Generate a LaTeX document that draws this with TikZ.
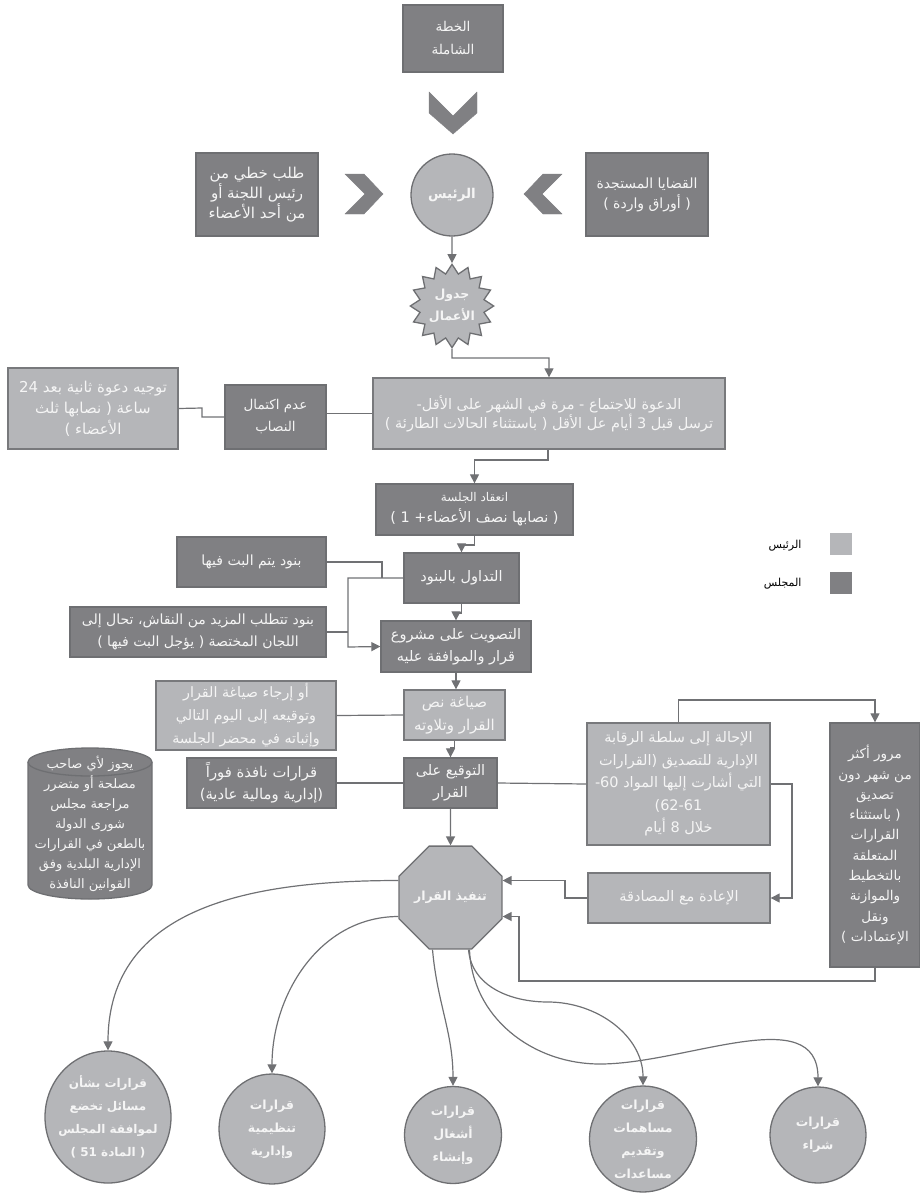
\documentclass[tikz,border=0pt]{standalone}
\usepackage{fontspec}
\usepackage{tikz}
\usetikzlibrary{shapes,arrows.meta}
\newfontfamily\arabicfont[Script=Arabic]{DejaVu Sans}
\newfontfamily\latinfont{DejaVu Sans}
\TeXXeTstate=1
\newcommand{\ar}[1]{\beginR #1\endR}
\newcommand{\arsize}[2]{\arabicfont\fontsize{#1}{#2}\selectfont}
\definecolor{darkfill}{RGB}{128,128,131}
\definecolor{darkline}{RGB}{110,111,114}
\definecolor{lightfill}{RGB}{181,182,185}
\definecolor{lightline}{RGB}{120,121,124}
\definecolor{linkclr}{RGB}{112,113,116}
\definecolor{txtclr}{RGB}{245,245,245}
\tikzset{
   box/.style={rectangle, align=center, inner sep=1pt, line width=1.3pt, text=txtclr,
      font=\arsize{14.5}{22}},
   darkbox/.style={box, fill=darkfill, draw=darkline},
   lightbox/.style={box, fill=lightfill, draw=lightline},
   roundnode/.style={ellipse, inner sep=-6pt, line width=1.3pt, fill=lightfill, draw=darkline,
      text=txtclr, align=center, font=\bfseries\arsize{12.5}{23}},
   chevron/.style={fill=darkfill, draw=darkfill},
   link/.style={draw=linkclr, line width=1.2pt},
   linkarrow/.style={link, -{Triangle[length=9pt,width=9pt]}}
}
\begin{document}
\begin{tikzpicture}[x=1pt, y=-1pt]
   \useasboundingbox (0,0) rectangle (920,1194);
   \node[darkbox, minimum width=100pt, minimum height=67pt, font=\arsize{13.5}{23}] (khutta) at (453,38.5) {\ar{الخطة}\\\ar{الشاملة}};
   \filldraw[chevron] (429,92) -- (453,116) -- (477,92) -- (477,113) -- (453,134) -- (429,113) -- cycle;
   \node[darkbox, minimum width=122pt, minimum height=83pt, font=\arsize{15}{20}] (talab) at (257,194.5) {\ar{طلب خطي من}\\\ar{رئيس اللجنة أو}\\\ar{من أحد الأعضاء}};
   \filldraw[chevron] (345,174) -- (364,174) -- (383,194) -- (364,214) -- (345,214) -- (365,194) -- cycle;
   \node[roundnode, inner sep=0pt, minimum size=82pt, font=\bfseries\arsize{13.5}{20}] (raees) at (452,195) {\ar{الرئيس}};
   \filldraw[chevron] (562,174) -- (543,174) -- (524,194) -- (543,214) -- (562,214) -- (542,194) -- cycle;
   \node[darkbox, minimum width=122pt, minimum height=83pt, font=\arsize{14}{20}] (qadaya) at (647,194.5) {\ar{القضايا المستجدة}\\\ar{( أوراق واردة )}};
   \node[star, star points=16, star point ratio=1.28, minimum size=80pt, inner sep=0pt, line width=1.3pt,
      fill=lightfill, draw=darkline, text=txtclr, align=center,
      font=\bfseries\arsize{12.5}{22}] (jadwal) at (452,306) {\ar{جدول}\\\ar{الأعمال}};
   \node[lightbox, minimum width=352pt, minimum height=71pt, font=\arsize{14.5}{19}] (dawa) at (549,413.5) {\ar{الدعوة للاجتماع - مرة في الشهر على الأقل-}\\\ar{ترسل قبل 3 أيام عل الأقل ( باستثناء الحالات الطارئة )}};
   \node[darkbox, minimum width=101pt, minimum height=64pt, font=\arsize{13.5}{22}] (adam) at (275.5,417) {\ar{عدم اكتمال}\\\ar{النصاب}};
   \node[lightbox, minimum width=170pt, minimum height=81pt, font=\arsize{15}{21}] (tawjih) at (93,408.5) {\ar{توجيه دعوة ثانية بعد 24}\\\ar{ساعة ( نصابها ثلث}\\\ar{الأعضاء )}};
   \node[darkbox, minimum width=197pt, minimum height=51pt, font=\arsize{14.5}{21}] (inaqad) at (474.5,509.5) {{\arsize{12}{21}\ar{انعقاد الجلسة}}\\\ar{( نصابها نصف الأعضاء+ 1 )}};
   \node[darkbox, minimum width=115pt, minimum height=50pt] (tadawul) at (461.5,578) {\ar{التداول بالبنود}};
   \node[darkbox, minimum width=149pt, minimum height=50pt, font=\arsize{14}{22}] (band1) at (251.5,562) {\ar{بنود يتم البت فيها}};
   \node[darkbox, minimum width=256pt, minimum height=50pt, font=\arsize{14}{22}] (band2) at (198,632) {\ar{بنود تتطلب المزيد من النقاش، تحال إلى}\\\ar{اللجان المختصة ( يؤجل البت فيها )}};
   \node[darkbox, minimum width=150pt, minimum height=51pt] (tasweet) at (456,646.5) {\ar{التصويت على مشروع}\\\ar{قرار والموافقة عليه}};
   \node[lightbox, minimum width=101pt, minimum height=50pt, font=\arsize{15}{23}] (siyagha) at (454.5,715) {\ar{صياغة نص}\\\ar{القرار وتلاوته}};
   \node[lightbox, minimum width=180pt, minimum height=69pt, font=\arsize{14.3}{23}] (irja) at (246,715.5) {\ar{أو إرجاء صياغة القرار}\\\ar{وتوقيعه إلى اليوم التالي}\\\ar{وإثباته في محضر الجلسة}};
   \node[darkbox, minimum width=93pt, minimum height=50pt] (tawqi) at (450.5,783) {\ar{التوقيع على}\\\ar{القرار}};
   \node[darkbox, minimum width=149pt, minimum height=50pt, font=\arsize{14.8}{22}] (nafitha) at (261.5,783) {\ar{قرارات نافذة فوراً}\\\ar{(إدارية ومالية عادية)}};
   \node[lightbox, minimum width=183pt, minimum height=122pt, font=\arsize{14.5}{22.5}] (ihala) at (678.5,784) {\ar{الإحالة إلى سلطة الرقابة}\\\ar{الإدارية للتصديق (القرارات}\\\ar{التي أشارت إليها المواد \beginL 60-\endL}\\{\latinfont (62-61}\\\ar{خلال 8 أيام}};
   \node[darkbox, minimum width=90pt, minimum height=244pt, font=\arsize{13.5}{20.3}] (muroor) at (875,845) {\ar{مرور أكثر}\\\ar{من شهر دون}\\\ar{تصديق}\\\ar{( باستثناء}\\\ar{القرارات}\\\ar{المتعلقة}\\\ar{بالتخطيط}\\\ar{والموازنة}\\\ar{ونقل}\\\ar{الإعتمادات )}};
   \node[lightbox, minimum width=182pt, minimum height=50pt] (iada) at (679,898) {\ar{الإعادة مع المصادقة}};
   \node[regular polygon, regular polygon sides=8, minimum size=101pt, inner sep=0pt, line width=1.3pt,
      fill=lightfill, draw=darkline, text=txtclr,
      font=\bfseries\arsize{12.5}{20}] (tanfeez) at (450.5,897.5) {\ar{تنفيذ القرار}};
   \filldraw[fill=darkfill, draw=darkline, line width=1.3pt] (28,762) -- (28,885) arc[start angle=180, end angle=0, x radius=62, y radius=14]
      -- (152,762) arc[start angle=0, end angle=-180, x radius=62, y radius=14] -- cycle;
   \draw[draw=darkline, line width=1.3pt] (28,762) arc[start angle=180, end angle=0, x radius=62, y radius=14];
   \node[text=txtclr, align=center, font=\arsize{13}{20}] (taan) at (90,823.5) {\ar{يجوز لأي صاحب}\\\ar{مصلحة أو متضرر}\\\ar{مراجعة مجلس}\\\ar{شورى الدولة}\\\ar{بالطعن في القرارات}\\\ar{الإدارية البلدية وفق}\\\ar{القوانين النافذة}};
   \node[roundnode, inner sep=-14pt, minimum width=126pt, minimum height=132pt, font=\bfseries\arsize{12}{23}] (bashan) at (108,1117) {\ar{قرارات بشأن}\\\ar{مسائل تخضع}\\\ar{لموافقة المجلس}\\\ar{( المادة 51 )}};
   \node[roundnode, minimum width=106pt, minimum height=110pt] (tanzimi) at (272,1129) {\ar{قرارات}\\\ar{تنظيمية}\\\ar{وإدارية}};
   \node[roundnode, minimum width=97pt, minimum height=97pt] (ashghal) at (453,1135) {\ar{قرارات}\\\ar{أشغال}\\\ar{وإنشاء}};
   \node[roundnode, minimum width=107pt, minimum height=106pt] (musahamat) at (643,1139) {\ar{قرارات}\\\ar{مساهمات}\\\ar{وتقديم}\\\ar{مساعدات}};
   \node[roundnode, minimum width=96pt, minimum height=96pt] (shira) at (818,1135) {\ar{قرارات}\\\ar{شراء}};
   \fill[lightfill] (830,533) rectangle (852,555);
   \fill[darkfill] (830,572) rectangle (852,594);
   \node[font=\arsize{11}{12}, anchor=east] (keyraees) at (805,546) {\ar{الرئيس}};
   \node[font=\arsize{11}{12}, anchor=east] (keymajlis) at (805,584) {\ar{المجلس}};
   \draw[linkarrow] (raees.south) -- (jadwal.north);
   \draw[linkarrow] (jadwal.south) -- (452,358) -| (dawa.north);
   \draw[link] (dawa.west) -- (dawa.west -| adam.east);
   \draw[link] (adam.west) -- (202,417) -- (202,408) -- (tawjih.east);
   \draw[linkarrow] ([xshift=-1pt]dawa.south) -- (548,460) -| (inaqad.north);
   \draw[linkarrow] (inaqad.south) -- (474.5,545) -| (tadawul.north);
   \draw[linkarrow] (tadawul.south) -- (461.5,613) -| (tasweet.north);
   \draw[linkarrow] (tasweet.south) -- (tasweet.south |- siyagha.north);
   \draw[linkarrow] (siyagha.south) -- (454.5,748) -| (tawqi.north);
   \draw[linkarrow] (tawqi.south) -- (tanfeez.north);
   \draw[linkarrow] (tadawul.west) -- (348,578) -- (348,647) -- (tasweet.west);
   \draw[link] (band1.east) -- (382,562) -- (382,578);
   \draw[link] (band2.east) -- (348,632);
   \draw[link] (siyagha.west) -- (irja.east);
   \draw[link] (tawqi.west) -- (nafitha.east);
   \draw[link] (tawqi.east) -- (ihala.west);
   \draw[linkarrow] (ihala.north) -- (678.5,700) -| (muroor.north);
   \draw[linkarrow] (ihala.east) -- (792,784) |- (iada.east);
   \draw[linkarrow] (iada.west) -- (565,898) |- ([yshift=17pt]tanfeez.east);
   \draw[linkarrow] (muroor.south) -- (875,981) -- (519,981) |- ([yshift=-19pt]tanfeez.east);
   \draw[linkarrow] ([yshift=17pt]tanfeez.west) to[out=180, in=90, looseness=1.1] (bashan.north);
   \draw[linkarrow] ([yshift=-19pt]tanfeez.west) to[out=180, in=90] (tanzimi.north);
   \draw[linkarrow] ([xshift=-18pt]tanfeez.south) to[out=-85, in=90] (ashghal.north);
   \draw[linkarrow] ([xshift=18pt]tanfeez.south) to[out=-85, in=180] (548,1002) to[out=0, in=90] (musahamat.north);
   \draw[linkarrow] ([xshift=19pt]tanfeez.south) to[out=-88, in=180] (600,1064) to[out=0, in=90] (shira.north);
\end{tikzpicture}
\end{document}
